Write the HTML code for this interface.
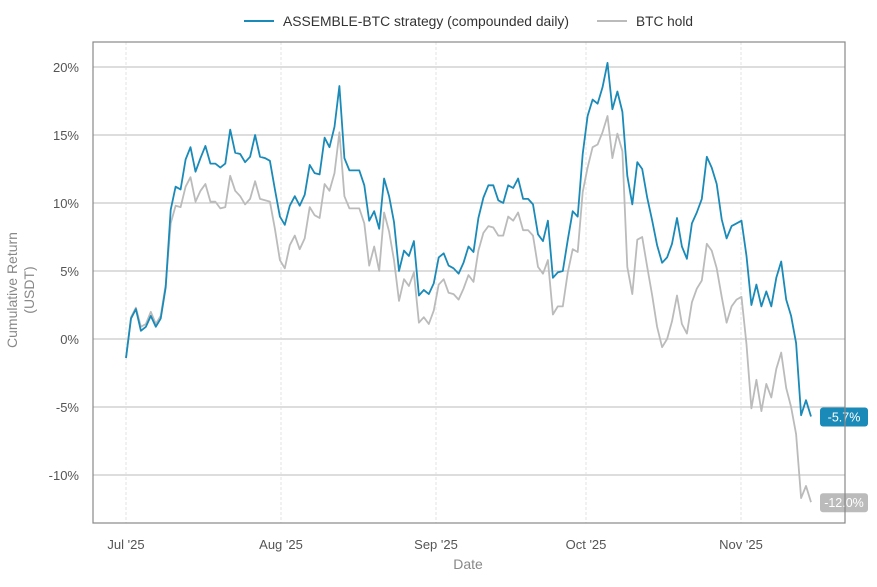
<!DOCTYPE html>
<html><head><meta charset="utf-8"><style>
body{margin:0;background:#fff;font-family:"Liberation Sans",sans-serif}
svg text{font-family:"Liberation Sans",sans-serif}
</style></head><body>
<svg id="chart" width="877" height="582" xmlns="http://www.w3.org/2000/svg">
<g id="grid"></g>
<g id="series"></g>
<rect x="93" y="42" width="752" height="481" fill="none" stroke="#888" stroke-width="1.2"/>
<g id="axes"></g>
<text x="25" y="290" transform="rotate(-90 25 290)" text-anchor="middle" font-size="14" fill="#888"><tspan x="25" dy="-8">Cumulative Return</tspan><tspan x="25" dy="17">(USDT)</tspan></text>
<text x="468" y="569" text-anchor="middle" font-size="14" fill="#888">Date</text>
<g>
<g><line x1="244" y1="21" x2="274" y2="21" stroke="#1a8ab8" stroke-width="2"/><text x="283" y="26" font-size="13.5" fill="#333" textLength="286" lengthAdjust="spacingAndGlyphs">ASSEMBLE-BTC strategy (compounded daily)</text></g>
<g><line x1="597" y1="21" x2="627" y2="21" stroke="#bbb" stroke-width="2"/><text x="636" y="26" font-size="13.5" fill="#333" textLength="57" lengthAdjust="spacingAndGlyphs">BTC hold</text></g>
</g>
</svg>
<script>
const strategy=[-1.4,1.5,2.2,0.6,0.9,1.7,0.9,1.5,3.8,9.5,11.2,11.0,13.2,14.1,12.3,13.3,14.2,12.9,12.9,12.6,12.9,15.4,13.7,13.6,13.0,13.4,15.0,13.4,13.3,13.1,11.0,9.0,8.4,9.8,10.5,9.8,10.6,12.8,12.2,12.1,14.8,14.1,15.6,18.6,13.3,12.4,12.4,12.4,11.3,8.7,9.4,8.1,11.8,10.5,8.6,5.0,6.5,6.1,7.2,3.2,3.6,3.3,4.1,6.0,6.3,5.4,5.2,4.8,5.6,6.8,6.4,8.9,10.4,11.3,11.3,10.2,10.0,11.3,11.1,11.8,10.3,10.3,9.9,7.7,7.2,8.7,4.5,4.9,5.0,7.3,9.4,9.0,13.6,16.4,17.6,17.3,18.5,20.3,16.9,18.2,16.7,12.0,9.9,13.0,12.5,10.4,8.7,6.9,5.6,6.0,7.0,8.9,6.8,5.9,8.5,9.3,10.3,13.4,12.6,11.4,8.8,7.4,8.3,8.5,8.7,6.1,2.5,4.0,2.4,3.5,2.4,4.5,5.7,2.9,1.7,-0.3,-5.6,-4.5,-5.7];
const btcHold=[-1.4,1.6,2.3,0.9,1.1,2.0,1.1,1.7,4.0,8.5,9.8,9.7,11.2,11.9,10.1,10.9,11.4,10.1,10.1,9.6,9.7,12.0,10.9,10.5,9.9,10.3,11.6,10.3,10.2,10.1,8.1,5.8,5.2,6.9,7.6,6.6,7.4,9.7,9.1,8.9,11.4,10.9,12.2,15.2,10.5,9.6,9.6,9.6,8.5,5.4,6.8,5.0,9.3,7.9,5.8,2.8,4.4,3.9,4.9,1.2,1.6,1.1,2.1,4.0,4.4,3.4,3.3,2.9,3.7,4.7,4.2,6.5,7.8,8.3,8.2,7.6,7.6,9.0,8.7,9.3,8.0,8.0,7.6,5.3,4.8,5.8,1.8,2.4,2.4,4.9,6.6,6.4,10.8,12.6,14.1,14.3,15.2,16.4,13.3,15.1,13.8,5.3,3.3,7.3,7.5,5.3,3.2,0.9,-0.6,0.0,1.3,3.2,1.1,0.4,2.7,3.7,4.3,7.0,6.5,5.2,3.1,1.2,2.4,2.9,3.1,-0.4,-5.1,-3.0,-5.3,-3.3,-4.3,-2.2,-1.0,-3.6,-5.0,-7.0,-11.7,-10.8,-12.0];
const yTicks=[20,15,10,5,0,-5,-10];
const xTickLabels=["Jul '25","Aug '25","Sep '25","Oct '25","Nov '25"];
const xTickDays=[0,31,62,92,123];

const NS="http://www.w3.org/2000/svg";
const y=v=>339-v*13.6;
const xDay=d=>126+d*5;
function mk(t,a,p){const e=document.createElementNS(NS,t);for(const k in a)e.setAttribute(k,a[k]);p.appendChild(e);return e;}
const grid=document.getElementById('grid'),axes=document.getElementById('axes'),ser=document.getElementById('series');
yTicks.forEach(v=>{
 const l=mk('line',{x1:93,x2:845,y1:y(v),y2:y(v),stroke:'#bbb','stroke-width':1},grid);
 
 
 const t=mk('text',{x:79,y:y(v)+5,'text-anchor':'end','font-size':13,fill:'#555'},axes);
 t.textContent=v+'%';
 
 
});
xTickDays.forEach((d,i)=>{
 const l=mk('line',{x1:xDay(d),x2:xDay(d),y1:42,y2:523,stroke:'#ddd','stroke-width':0.8,'stroke-dasharray':'3,2'},grid);
 
 
 const t=mk('text',{x:xDay(d),y:549,'text-anchor':'middle','font-size':13,fill:'#555'},axes);
 t.textContent=xTickLabels[i];
 
 
});
function line(data,color,name){
 const n=data.length,sp=685/(n-1);
 const pts=data.map((v,i)=>(126+i*sp).toFixed(1)+','+y(v).toFixed(1)).join(' ');
 const p=mk('polyline',{points:pts,fill:'none',stroke:color,'stroke-width':1.8,'stroke-linejoin':'round'},ser);
 
 
}
line(btcHold,'#bbb','btc-hold-line');
line(strategy,'#1a8ab8','strategy-line');
function tag(v,color,name){
 const cy=y(v);
 const g=mk('g',{},ser);
 
 
 mk('rect',{x:820,y:cy-9,width:48,height:19,rx:3,fill:color},g);
 const t=mk('text',{x:844,y:cy+5,'text-anchor':'middle','font-size':12.5,fill:'#fff'},g);
 t.textContent=v.toFixed(1)+'%';
}
tag(strategy[strategy.length-1],'#1a8ab8','strategy-end-label');
tag(btcHold[btcHold.length-1],'#bbb','btc-end-label');
</script>
</body></html>
